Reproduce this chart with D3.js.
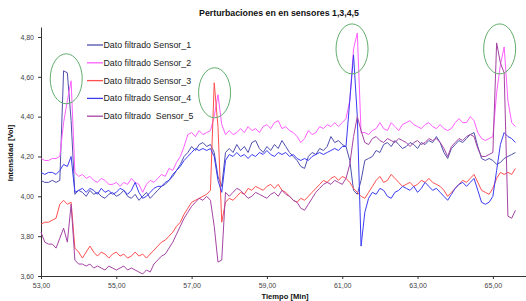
<!DOCTYPE html>
<html>
<head>
<meta charset="utf-8">
<script src="https://cdn.jsdelivr.net/npm/d3@7"></script>
<style>
  html, body { margin: 0; padding: 0; background: #fff; }
  svg { display: block; font-family: "Liberation Sans", Arial, sans-serif; }
</style>
</head>
<body>
<svg id="chart" width="526" height="301"></svg>
<script>
// time grid, 0.1 min steps (53,0 .. 65,6)
const tStart = 53.0;
const tStep = 0.1;

const xTicks = [53, 55, 57, 59, 61, 63, 65];
const xTickLabels = ['53,00', '55,00', '57,00', '59,00', '61,00', '63,00', '65,00'];
const yTicks = [3.6, 3.8, 4.0, 4.2, 4.4, 4.6, 4.8];
const yTickLabels = ['3,60', '3,80', '4,00', '4,20', '4,40', '4,60', '4,80'];

const seriesNames = ['Dato filtrado Sensor_1', 'Dato filtrado Sensor_2', 'Dato filtrado Sensor_3',
  'Dato filtrado Sensor_4', 'Dato filtrado  Sensor_5'];
const seriesColors = ['#4f4fae', '#ff5eff', '#ff4f4f', '#3c3cf2', '#a444a4'];

const sensor1 = [
  4.08, 4.07, 4.07, 4.08, 4.07, 4.08, 4.63, 4.62, 4.38, 4.01,
  4.03, 4.02, 4.00, 4.03, 4.01, 4.02, 4.00, 3.99, 4.01, 4.02,
  4.00, 4.01, 4.03, 4.00, 3.99, 4.01, 3.98, 4.00, 4.02, 3.99,
  4.01, 4.03, 4.05, 4.06, 4.08, 4.10, 4.13, 4.16, 4.20, 4.22,
  4.25, 4.23, 4.26, 4.27, 4.25, 4.26, 4.22, 4.10, 4.05, 4.22,
  4.24, 4.22, 4.26, 4.23, 4.25, 4.22, 4.27, 4.28, 4.24, 4.22,
  4.25, 4.23, 4.26, 4.24, 4.28, 4.25, 4.22, 4.20, 4.18, 4.15,
  4.14, 4.20, 4.22, 4.21, 4.24, 4.23, 4.25, 4.30, 4.27, 4.28,
  4.26, 4.25, 4.18, 4.03, 4.01, 4.08, 4.18, 4.19, 4.20, 4.23,
  4.22, 4.26, 4.27, 4.25, 4.28, 4.26, 4.24, 4.25, 4.27, 4.26,
  4.24, 4.27, 4.26, 4.28, 4.27, 4.30, 4.27, 4.22, 4.19, 4.24,
  4.26, 4.28, 4.27, 4.29, 4.31, 4.32, 4.25, 4.19, 4.18, 4.19,
  4.18, 4.16, 4.17, 4.19, 4.20, 4.21, 4.22
];
const sensor2 = [
  4.19, 4.18, 4.18, 4.19, 4.19, 4.20, 4.37, 4.48, 4.58, 4.12,
  4.10, 4.11, 4.09, 4.10, 4.08, 4.07, 4.09, 4.08, 4.06, 4.06,
  4.07, 4.05, 4.07, 4.06, 4.09, 4.07, 4.06, 4.02, 4.06, 4.08,
  4.07, 4.09, 4.11, 4.10, 4.14, 4.13, 4.17, 4.20, 4.25, 4.31,
  4.32, 4.30, 4.33, 4.31, 4.32, 4.33, 4.40, 4.51, 4.36, 4.31,
  4.33, 4.31, 4.32, 4.34, 4.32, 4.35, 4.33, 4.34, 4.32, 4.35,
  4.36, 4.34, 4.37, 4.38, 4.34, 4.35, 4.33, 4.32, 4.30, 4.27,
  4.29, 4.33, 4.31, 4.32, 4.35, 4.34, 4.36, 4.35, 4.37, 4.35,
  4.37, 4.39, 4.48, 4.74, 4.82, 4.32, 4.32, 4.31, 4.33, 4.34,
  4.37, 4.34, 4.33, 4.37, 4.35, 4.33, 4.36, 4.37, 4.38, 4.36,
  4.35, 4.34, 4.36, 4.37, 4.35, 4.34, 4.36, 4.34, 4.33, 4.34,
  4.37, 4.39, 4.37, 4.37, 4.40, 4.38, 4.32, 4.29, 4.28, 4.29,
  4.30, 4.52, 4.66, 4.75, 4.48, 4.37, 4.35
];
const sensor3 = [
  3.86, 3.87, 3.87, 3.88, 3.89, 3.96, 3.98, 3.96, 3.97, 3.74,
  3.72, 3.69, 3.72, 3.75, 3.72, 3.70, 3.72, 3.71, 3.69, 3.71,
  3.72, 3.70, 3.71, 3.69, 3.70, 3.72, 3.70, 3.71, 3.69, 3.71,
  3.73, 3.75, 3.77, 3.78, 3.80, 3.82, 3.85, 3.87, 3.91, 3.94,
  3.97, 3.98, 3.99, 4.00, 4.01, 4.03, 4.57, 4.35, 3.87, 3.97,
  3.99, 3.98, 4.00, 4.02, 4.01, 4.04, 4.03, 4.05, 4.04, 4.03,
  4.05, 4.06, 4.04, 4.06, 4.03, 4.02, 4.00, 3.98, 3.97, 3.99,
  3.98, 4.00, 4.02, 4.04, 4.06, 4.08, 4.07, 4.09, 4.10, 4.08,
  4.10, 4.09, 4.07, 4.04, 4.02, 4.00, 3.99, 4.02, 4.05, 4.08,
  4.10, 4.07, 4.08, 4.11, 4.09, 4.07, 4.05, 4.06, 4.07, 4.05,
  4.06, 4.08, 4.07, 4.09, 4.07, 4.06, 4.05, 4.03, 4.00, 4.02,
  4.04, 4.06, 4.08, 4.07, 4.09, 4.11, 4.07, 4.03, 4.02, 4.01,
  4.04, 4.09, 4.12, 4.11, 4.12, 4.11, 4.14
];
const sensor4 = [
  4.12, 4.11, 4.12, 4.12, 4.11, 4.13, 4.16, 4.15, 4.20, 4.02,
  4.03, 4.04, 4.02, 4.04, 4.03, 4.01, 4.04, 4.02, 4.03, 4.01,
  4.02, 4.04, 4.03, 4.01, 4.03, 4.07, 4.02, 3.99, 4.00, 4.02,
  4.04, 4.05, 4.05, 4.07, 4.08, 4.11, 4.13, 4.15, 4.18, 4.20,
  4.22, 4.24, 4.23, 4.24, 4.23, 4.24, 4.20, 4.08, 4.02, 4.18,
  4.21, 4.20, 4.22, 4.20, 4.21, 4.19, 4.21, 4.20, 4.22, 4.21,
  4.23, 4.21, 4.20, 4.22, 4.21, 4.22, 4.20, 4.21, 4.19, 4.18,
  4.19, 4.18, 4.20, 4.21, 4.22, 4.21, 4.22, 4.23, 4.24, 4.23,
  4.25, 4.25, 4.48, 4.71, 4.40, 3.75, 3.92, 3.99, 4.02, 4.01,
  4.04, 4.03, 4.00, 3.99, 4.02, 4.03, 4.05, 4.04, 4.03, 4.05,
  4.02, 4.04, 4.07, 4.05, 4.03, 4.04, 4.02, 4.00, 3.98, 4.01,
  4.04, 4.06, 4.07, 4.05, 4.07, 4.09, 4.03, 3.97, 3.96, 3.97,
  4.00, 4.13, 4.26, 4.32, 4.30, 4.29, 4.27
];
const sensor5 = [
  3.82, 3.77, 3.76, 3.76, 3.74, 3.79, 3.84, 3.77, 3.96, 3.68,
  3.66, 3.66, 3.65, 3.66, 3.64, 3.65, 3.64, 3.63, 3.65, 3.64,
  3.63, 3.64, 3.65, 3.63, 3.64, 3.63, 3.62, 3.61, 3.63, 3.62,
  3.66, 3.68, 3.70, 3.71, 3.74, 3.77, 3.81, 3.85, 3.89, 3.92,
  3.95, 3.97, 3.99, 3.98, 4.00, 3.98, 3.85, 3.67, 3.68, 4.02,
  4.00, 4.02, 4.04, 4.03, 4.01, 3.99, 4.00, 4.02, 4.01, 4.00,
  3.99, 4.01, 4.02, 4.00, 4.03, 4.01, 4.00, 3.98, 3.97, 3.94,
  3.93, 3.96, 3.99, 4.02, 4.04, 4.06, 4.07, 4.06, 4.08, 4.07,
  4.06, 4.09, 4.16, 4.30, 4.40, 4.33, 4.27, 4.26, 4.29, 4.30,
  4.28, 4.27, 4.29, 4.28, 4.27, 4.29, 4.28, 4.27, 4.25, 4.27,
  4.28, 4.26, 4.27, 4.29, 4.28, 4.29, 4.27, 4.24, 4.20, 4.25,
  4.27, 4.29, 4.28, 4.30, 4.31, 4.30, 4.24, 4.20, 4.20, 4.21,
  4.22, 4.77, 4.67, 4.62, 3.90, 3.89, 3.93
];
const allSeries = [sensor1, sensor2, sensor3, sensor4, sensor5];

// green rings around the disturbances: [time, value]
const ringTimes = [53.67, 57.61, 61.26, 65.18];
const ringValues = [4.59, 4.52, 4.74, 4.74];

const svg = d3.select('#chart');
const margin = { left: 41, right: 0, top: 27, bottom: 25 };
const width = +svg.attr('width');
const height = +svg.attr('height');

const x = d3.scaleLinear().domain([53, 65.88]).range([margin.left, width - margin.right]);
const y = d3.scaleLinear().domain([3.6, 4.85]).range([height - margin.bottom, margin.top]);

// title
svg.append('text')
  .attr('x', 279).attr('y', 16)
  .attr('text-anchor', 'middle')
  .attr('font-size', 8.8).attr('font-weight', 'bold').attr('fill', '#111')
  .text('Perturbaciones en en sensores 1,3,4,5');

// axes
const xAxis = svg.append('g')
  .attr('transform', `translate(0,${y(3.6)})`)
  .call(d3.axisBottom(x).tickValues(xTicks).tickSizeInner(3).tickSizeOuter(0).tickPadding(4)
    .tickFormat((d, i) => xTickLabels[i]));
const yAxis = svg.append('g')
  .attr('transform', `translate(${x(53)},0)`)
  .call(d3.axisLeft(y).tickValues(yTicks).tickSizeInner(3).tickSizeOuter(0).tickPadding(4)
    .tickFormat((d, i) => yTickLabels[i]));

[xAxis, yAxis].forEach(g => {
  g.select('.domain').attr('stroke', '#333').attr('stroke-width', 1);
  g.selectAll('.tick line').attr('stroke', '#333');
  g.selectAll('.tick text').attr('font-size', 7).attr('fill', '#444')
    .attr('font-family', '"Liberation Sans", Arial, sans-serif');
});

svg.append('text')
  .attr('x', 285).attr('y', 299)
  .attr('text-anchor', 'middle')
  .attr('font-size', 7.6).attr('font-weight', 'bold').attr('fill', '#111')
  .text('Tiempo [Min]');

svg.append('text')
  .attr('transform', 'translate(13,153) rotate(-90)')
  .attr('text-anchor', 'middle')
  .attr('font-size', 7.6).attr('font-weight', 'bold').attr('fill', '#111')
  .text('Intensidad [Vol]');

// series lines
const line = d3.line()
  .x((d, i) => x(tStart + i * tStep))
  .y(d => y(d));

svg.append('g')
  .selectAll('path')
  .data(allSeries)
  .enter().append('path')
  .attr('d', line)
  .attr('fill', 'none')
  .attr('stroke', (d, i) => seriesColors[i])
  .attr('stroke-width', 1)
  .attr('stroke-linejoin', 'round');

// rings
svg.append('g')
  .selectAll('ellipse')
  .data(ringTimes)
  .enter().append('ellipse')
  .attr('cx', d => x(d))
  .attr('cy', (d, i) => y(ringValues[i]))
  .attr('rx', 16)
  .attr('ry', 25)
  .attr('fill', 'none')
  .attr('stroke', '#62ad6c')
  .attr('stroke-width', 1);

// legend
const legend = svg.append('g').attr('transform', 'translate(87,45)');
const rows = legend.selectAll('g')
  .data(seriesNames)
  .enter().append('g')
  .attr('transform', (d, i) => `translate(0,${i * 17.8})`);
rows.append('line')
  .attr('x1', 0).attr('x2', 16).attr('y1', 0).attr('y2', 0)
  .attr('stroke', (d, i) => seriesColors[i])
  .attr('stroke-width', 1.3);
rows.append('text')
  .attr('x', 16.5).attr('y', 3)
  .attr('font-size', 8.8).attr('fill', '#222')
  .style('white-space', 'pre')
  .text(d => d);
</script>
</body>
</html>
